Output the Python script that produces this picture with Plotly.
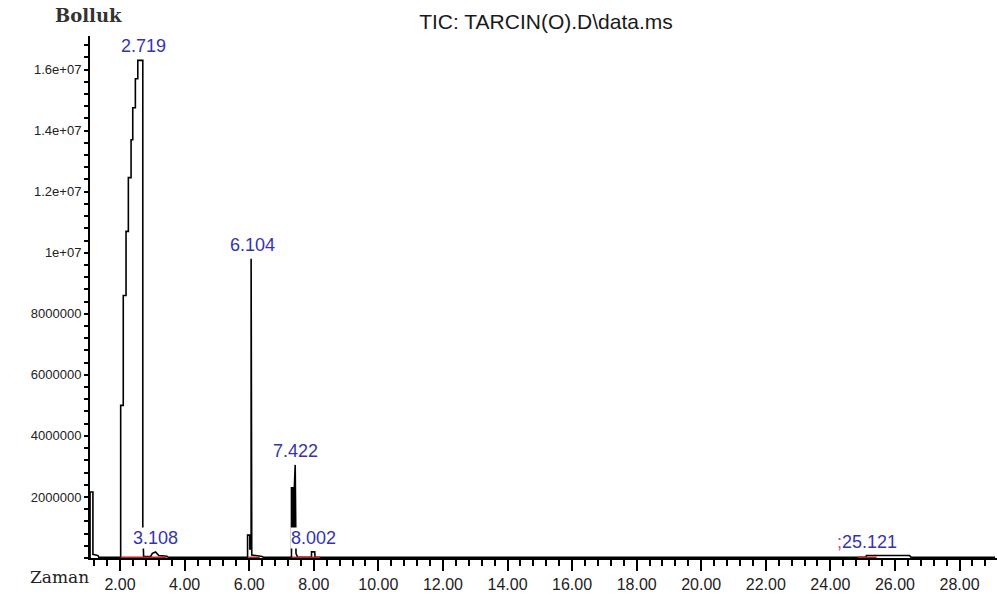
import plotly.graph_objects as go

# ---- data (retention time in min, abundance in counts) ----
rt = [1.072, 1.072, 1.16, 1.16, 1.32, 1.34, 2.02, 2.02, 2.10, 2.10, 2.186, 2.186,
      2.258, 2.258, 2.342, 2.342, 2.394, 2.394, 2.475, 2.475, 2.55, 2.55, 2.705,
      2.705, 2.73, 2.95, 3.0, 3.10, 3.2, 3.45, 3.5, 5.95, 5.95, 6.02, 6.02, 6.06,
      6.06, 6.08, 6.40, 6.45, 7.31, 7.31, 7.36, 7.36, 7.40, 7.40, 7.425, 7.43,
      7.45, 7.50, 7.93, 7.93, 8.03, 8.04, 25.08, 25.12, 26.45, 26.5, 29.1]
abundance = [0, 2160000, 2160000, 120000, 80000, 20000, 20000, 5000000, 5000000,
             8600000, 8600000, 10700000, 10700000, 12460000, 12460000, 13700000,
             13700000, 14750000, 14750000, 15700000, 15700000, 16300000, 16300000,
             1000000, 50000, 50000, 150000, 200000, 80000, 60000, 20000, 20000,
             750000, 750000, 300000, 300000, 9800000, 100000, 50000, 20000, 20000,
             2300000, 2300000, 1000000, 1000000, 2350000, 3050000, 900000, 150000,
             20000, 20000, 200000, 200000, 20000, 20000, 80000, 80000, 20000, 20000]

# integration baselines (red)
base_start = [2.02, 5.97, 7.31, 24.84]
base_end = [3.44, 6.33, 8.19, 25.43]

# labelled peaks
peak_labels = ["2.719", "3.108", "6.104", "7.422", "8.002",
               '<span style="color:#c04080">;</span>25.121']
peak_rt = [2.719, 3.108, 6.104, 7.422, 8.002, 25.121]
peak_top = [16300000, 200000, 9800000, 3050000, 200000, 80000]

x_tick_vals = [2, 4, 6, 8, 10, 12, 14, 16, 18, 20, 22, 24, 26, 28]
x_tick_labels = ["2.00", "4.00", "6.00", "8.00", "10.00", "12.00", "14.00",
                 "16.00", "18.00", "20.00", "22.00", "24.00", "26.00", "28.00"]
y_tick_vals = [2e6, 4e6, 6e6, 8e6, 10e6, 12e6, 14e6, 16e6]
y_tick_labels = ["2000000", "4000000", "6000000", "8000000",
                 "1e+07", "1.2e+07", "1.4e+07", "1.6e+07"]

title_text = "TIC: TARCIN(O).D\\data.ms"
y_title = "Bolluk"
x_title = "Zaman"

fig = go.Figure()

fig.add_trace(go.Scatter(
    x=rt, y=abundance, mode="lines",
    line=dict(color="black", width=1.6), hoverinfo="skip"))

bx, by = [], []
for s, e in zip(base_start, base_end):
    bx += [s, e, None]
    by += [10000, 10000, None]
fig.add_trace(go.Scatter(
    x=bx, y=by, mode="lines",
    line=dict(color="#c02020", width=2.2), hoverinfo="skip"))

annotations = []
for lab, t, top in zip(peak_labels, peak_rt, peak_top):
    annotations.append(dict(
        x=t, y=top, xref="x", yref="y", text=lab, showarrow=False,
        xanchor="center", yanchor="bottom", yshift=3, borderpad=0,
        bgcolor="white",
        font=dict(family="Liberation Sans, Arial, sans-serif", size=18,
                  color="#3434b0")))

annotations.append(dict(
    x=(88 - 90) / 907, y=(558 - 16) / 522, xref="paper", yref="paper",
    text="<b>" + y_title + "</b>", showarrow=False, xanchor="center",
    yanchor="middle",
    font=dict(family="DejaVu Serif, serif", size=18, color="#333333")))
annotations.append(dict(
    x=(59 - 90) / 907, y=(558 - 577) / 522, xref="paper", yref="paper",
    text=x_title, showarrow=False, xanchor="center", yanchor="middle",
    font=dict(family="DejaVu Serif, serif", size=17, color="#222222")))

fig.update_layout(
    width=997, height=597,
    margin=dict(l=90, r=0, t=36, b=39),
    paper_bgcolor="white", plot_bgcolor="white",
    showlegend=False,
    title=dict(text=title_text, x=546 / 997, y=1 - 22 / 597,
               xref="container", yref="container",
               xanchor="center", yanchor="middle",
               font=dict(family="Liberation Sans, Arial, sans-serif",
                         size=21, color="#1a1a1a")),
    annotations=annotations,
    xaxis=dict(
        range=[1.07, 29.16], showgrid=False, zeroline=False,
        showline=True, linecolor="black", linewidth=2, layer="below traces",
        tickmode="array", tickvals=x_tick_vals, ticktext=x_tick_labels,
        ticks="outside", ticklen=11, tickwidth=1.5, tickcolor="black",
        tickfont=dict(family="Liberation Sans, Arial, sans-serif",
                      size=16, color="#222222"),
        minor=dict(tickmode="linear", tick0=0, dtick=0.4, ticks="outside",
                   ticklen=6, tickwidth=1.5, tickcolor="black",
                   showgrid=False),
    ),
    yaxis=dict(
        range=[0, 17.1e6], showgrid=False, zeroline=False,
        showline=True, linecolor="black", linewidth=2,
        tickmode="array", tickvals=y_tick_vals, ticktext=y_tick_labels,
        ticks="outside", ticklen=0, tickcolor="black",
        ticklabelstandoff=4,
        tickfont=dict(family="Liberation Sans, Arial, sans-serif",
                      size=13, color="#222222"),
        minor=dict(tickmode="linear", tick0=0, dtick=4e5, ticks="outside",
                   ticklen=4, tickwidth=1.5, tickcolor="black",
                   showgrid=False),
    ),
)

fig.write_html("out.html")
